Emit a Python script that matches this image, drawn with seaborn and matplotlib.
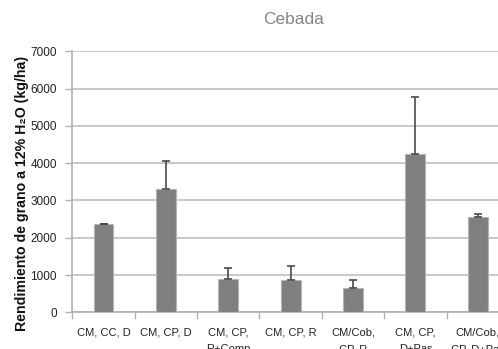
import pandas as pd
import matplotlib
matplotlib.use("Agg")
import matplotlib.pyplot as plt
import seaborn as sns

# data
categories = [
    "CM, CC, D",
    "CM, CP, D",
    "CM, CP,\nR+Comp",
    "CM, CP, R",
    "CM/Cob,\nCP, R",
    "CM, CP,\nD+Pas",
    "CM/Cob,\nCP, D+Pas",
]
rendimiento = [2370, 3300, 900, 870, 650, 4250, 2560]
error_sup = [10, 760, 290, 360, 210, 1530, 80]
yticks = [0, 1000, 2000, 3000, 4000, 5000, 6000, 7000]


def plot_cebada(out_p):
    sns.set_theme(style="white")
    plt.rcParams["font.family"] = ["Liberation Sans", "DejaVu Sans"]

    df = pd.DataFrame({"tratamiento": categories, "rendimiento": rendimiento})

    fig = plt.figure(figsize=(4.98, 3.49), dpi=100)
    # axes runs past the right edge, as in the cropped original
    ax = fig.add_axes([0.1452, 0.105, 0.877, 0.748])

    sns.barplot(
        data=df,
        x="tratamiento",
        y="rendimiento",
        color="#7f7f7f",
        saturation=1,
        width=0.32,
        edgecolor="#b5b5b5",
        linewidth=0.8,
        errorbar=None,
        ax=ax,
        zorder=3,
    )
    # upper error bars only
    xs = [p.get_x() + p.get_width() / 2 for p in ax.patches]
    ax.errorbar(
        xs,
        rendimiento,
        yerr=[[0] * len(error_sup), error_sup],
        fmt="none",
        ecolor="#4a4a4a",
        elinewidth=1.2,
        capsize=3,
        capthick=1.2,
        zorder=4,
    )

    ax.set_ylim(0, 7000)
    ax.set_xlim(-0.5, len(categories) - 0.5)
    ax.set_yticks(yticks)
    ax.set_yticklabels([str(t) for t in yticks], fontsize=8.5, color="#222222")
    ax.grid(axis="y", color="#c4c4c4", linewidth=1.3, zorder=0)

    # category ticks sit on the boundaries
    ax.set_xticks([i - 0.5 for i in range(len(categories) + 1)])
    ax.set_xticklabels([])
    ax.set_xticks(range(len(categories)), minor=True)
    ax.set_xticklabels(categories, minor=True, fontsize=8, color="#222222")
    ax.tick_params(axis="x", which="minor", length=0, pad=11)
    ax.tick_params(axis="x", which="major", length=5, width=1, color="#b0b0b0",
                   direction="out", bottom=True)
    ax.tick_params(axis="y", length=5, width=1, color="#b0b0b0", direction="out",
                   left=True, pad=6)
    for lbl in ax.get_xticklabels(minor=True):
        lbl.set_linespacing(1.8)

    for s in ["top", "right"]:
        ax.spines[s].set_visible(False)
    ax.spines["left"].set_color("#b0b0b0")
    ax.spines["bottom"].set_color("#b0b0b0")
    ax.spines["left"].set_linewidth(1.2)
    ax.spines["bottom"].set_linewidth(1.2)

    ax.set_xlabel("")
    ax.set_ylabel("Rendimiento de grano a 12% H₂O (kg/ha)", fontsize=10.2,
                  fontweight="bold", color="#111111")
    ax.yaxis.set_label_coords(-0.1, 0.455)
    fig.text(0.59, 0.943, "Cebada", fontsize=12.5, color="#858585",
             ha="center", va="center")

    fig.savefig(out_p, dpi=100)
    plt.close(fig)


if __name__ == "__main__":
    plot_cebada("out.png")
